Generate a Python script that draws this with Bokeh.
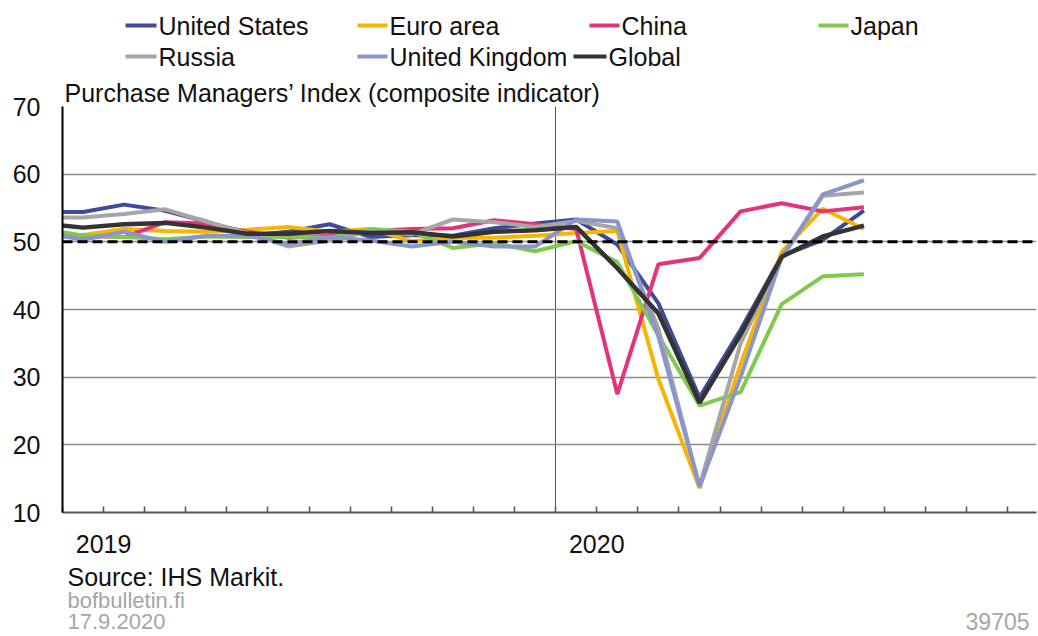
from bokeh.plotting import figure
from bokeh.models import Range1d, FixedTicker, Span, Grid, ColumnDataSource
from bokeh.layouts import column
from bokeh.embed import file_html
from bokeh.resources import INLINE
from bokeh.core.properties import value

FONT = "Liberation Sans"

# ---- data (monthly composite PMI) ----
months = ["2018-12", "2019-01", "2019-02", "2019-03", "2019-04", "2019-05", "2019-06",
          "2019-07", "2019-08", "2019-09", "2019-10", "2019-11", "2019-12",
          "2020-01", "2020-02", "2020-03", "2020-04", "2020-05", "2020-06",
          "2020-07", "2020-08"]

united_states = [54.4, 54.4, 55.5, 54.6, 53.0, 50.9, 51.5, 52.6, 50.7, 51.0, 50.9, 52.0, 52.7,
                 53.3, 49.6, 40.9, 27.0, 37.0, 47.9, 50.3, 54.6]
euro_area = [51.1, 51.0, 51.9, 51.6, 51.5, 51.8, 52.2, 51.5, 51.9, 50.1, 50.6, 50.6, 50.9,
             51.3, 51.6, 29.7, 13.6, 31.9, 48.5, 54.9, 51.9]
china = [50.7, 50.9, 50.7, 52.9, 52.7, 51.5, 50.6, 50.9, 51.6, 51.9, 52.0, 53.2, 52.6,
         51.9, 27.5, 46.7, 47.6, 54.5, 55.7, 54.5, 55.1]
japan = [52.0, 50.9, 50.7, 50.4, 50.8, 50.7, 50.8, 50.6, 51.9, 51.5, 49.1, 49.8, 48.6,
         50.1, 47.0, 36.2, 25.8, 27.8, 40.8, 44.9, 45.2]
russia = [53.6, 53.6, 54.1, 54.8, 53.0, 51.3, 49.3, 50.2, 51.6, 51.1, 53.3, 52.9, 52.2,
          53.1, 52.0, 37.2, 13.9, 35.0, 47.6, 56.8, 57.3]
united_kingdom = [51.4, 50.3, 51.5, 50.0, 50.9, 50.9, 49.7, 50.7, 50.2, 49.3, 50.0, 49.3, 49.3,
                  53.3, 53.0, 36.0, 13.8, 30.0, 47.7, 57.0, 59.1]
global_pmi = [52.7, 52.1, 52.6, 52.8, 52.1, 51.2, 51.2, 51.6, 51.3, 51.4, 50.8, 51.5, 51.7,
              52.2, 46.1, 39.4, 26.2, 36.3, 47.8, 50.8, 52.4]

series_names = ["United States", "Euro area", "China", "Japan", "Russia", "United Kingdom", "Global"]
series_values = [united_states, euro_area, china, japan, russia, united_kingdom, global_pmi]
series_colors = ["#3f4a9a", "#f7b500", "#e2337c", "#80c94f", "#a6a6a6", "#8c95cb", "#333333"]
series_widths = [4, 4, 4, 4, 4, 4, 4.5]

year_labels = {1: "2019", 13: "2020"}
y_ticks = [10, 20, 30, 40, 50, 60, 70]
threshold = 50

title_text = "Purchase Managers\u2019 Index (composite indicator)"
source_text = "Source: IHS Markit."
site_text = "bofbulletin.fi"
date_text = "17.9.2020"
code_text = "39705"

# month position: 0 = start of Jan 2019, points placed mid-month
def month_pos(m):
    y, mo = m.split("-")
    return (int(y) - 2019) * 12 + (int(mo) - 1) + 0.5

xs = [month_pos(m) for m in months]

W = 1038
FL, FR = 62, 1036          # frame left / right in page pixels
BL, BR = FL, W - FR

# ---- legend figure (page pixel coordinates) ----
LEG_H = 74
leg = figure(width=W, height=LEG_H, x_range=Range1d(FL, FR), y_range=Range1d(LEG_H, 0),
             toolbar_location=None, output_backend="svg",
             min_border_left=BL, min_border_right=BR, min_border_top=0, min_border_bottom=0,
             x_axis_location=None, y_axis_location=None)
leg.grid.visible = False
leg.outline_line_color = None

leg_x0 = [125, 357, 589, 818, 125, 357, 573]
leg_x1 = [156, 387, 619, 848, 156, 387, 606]
leg_tx = [158, 389, 621, 850, 158, 389, 608]
leg_y = [25, 25, 25, 25, 56, 56, 56]
lsrc = ColumnDataSource(dict(x0=leg_x0, x1=leg_x1, tx=leg_tx, y=leg_y,
                             name=series_names, color=series_colors))
leg.segment(x0="x0", y0="y", x1="x1", y1="y", line_color="color", line_width=4, source=lsrc)
leg.text(x="tx", y="y", text="name", text_baseline="middle", text_align="left",
         text_font=value(FONT), text_font_size="25px", text_color="#111111", source=lsrc)

# ---- main figure ----
MAIN_H = 490
p = figure(width=W, height=MAIN_H, x_range=Range1d(0, 23.7), y_range=Range1d(10, 70),
           toolbar_location=None, output_backend="svg",
           min_border_left=BL, min_border_right=BR, min_border_top=32, min_border_bottom=52)
p.outline_line_color = None
p.background_fill_color = "white"
p.border_fill_color = "white"

p.title.text = title_text
p.title.align = "left"
p.title.text_font = FONT
p.title.text_font_size = "25px"
p.title.text_font_style = "normal"
p.title.text_color = "#111111"
p.title.offset = 2
p.title.standoff = 0

# y axis
p.yaxis.ticker = FixedTicker(ticks=y_ticks)
p.yaxis.major_tick_in = 0
p.yaxis.major_tick_out = 0
p.yaxis.minor_tick_line_color = None
p.yaxis.axis_line_color = "black"
p.yaxis.axis_line_width = 2
p.yaxis.major_label_text_font = FONT
p.yaxis.major_label_text_font_size = "25px"
p.yaxis.major_label_text_color = "#111111"
p.yaxis.major_label_standoff = 22

# x axis
x_ticks = list(range(0, 24))
p.xaxis.ticker = FixedTicker(ticks=x_ticks)
p.xaxis.major_label_overrides = {t: year_labels.get(t, "") for t in x_ticks}
p.xaxis.major_tick_in = 6
p.xaxis.major_tick_out = 0
p.xaxis.major_tick_line_color = "#555555"
p.xaxis.major_tick_line_width = 1.5
p.xaxis.minor_tick_line_color = None
p.xaxis.axis_line_color = "#555555"
p.xaxis.axis_line_width = 2
p.xaxis.major_label_text_font = FONT
p.xaxis.major_label_text_font_size = "25px"
p.xaxis.major_label_text_color = "#111111"
p.xaxis.major_label_standoff = 22

# grids
p.ygrid.ticker = FixedTicker(ticks=[t for t in y_ticks if 10 < t < 70])
p.ygrid.grid_line_color = "#8c8c8c"
p.ygrid.grid_line_width = 1.3
p.xgrid.ticker = FixedTicker(ticks=[12])
p.xgrid.grid_line_color = "#555555"
p.xgrid.grid_line_width = 1
top_grid = Grid(dimension=1, ticker=FixedTicker(ticks=[70]), grid_line_color="black",
                grid_line_width=2)
p.add_layout(top_grid)

for name, vals, col, lw in zip(series_names, series_values, series_colors, series_widths):
    p.line(xs, vals, line_color=col, line_width=lw)

p.add_layout(Span(location=threshold, dimension="width", line_color="black",
                  line_width=3, line_dash="10 5"))

# ---- footer figure (page pixel coordinates) ----
FOOT_TOP = LEG_H + MAIN_H
FOOT_H = 636 - FOOT_TOP
foot = figure(width=W, height=FOOT_H, x_range=Range1d(FL, FR),
              y_range=Range1d(FOOT_TOP + FOOT_H, FOOT_TOP),
              toolbar_location=None, output_backend="svg",
              min_border_left=BL, min_border_right=BR, min_border_top=0, min_border_bottom=0,
              x_axis_location=None, y_axis_location=None)
foot.grid.visible = False
foot.outline_line_color = None
fsrc = ColumnDataSource(dict(x=[67, 67, 67], y=[576, 600, 621],
                             t=[source_text, site_text, date_text],
                             c=["#111111", "#a6a6a6", "#a6a6a6"],
                             s=["25px", "22px", "22px"]))
foot.text(x="x", y="y", text="t", text_color="c", text_font_size="s",
          text_baseline="middle", text_align="left", text_font=value(FONT), source=fsrc)
foot.text(x=[1029], y=[621], text=[code_text], text_color="#a6a6a6", text_font_size="23px",
          text_baseline="middle", text_align="right", text_font=value(FONT))

layout = column(leg, p, foot, spacing=0)
open("out.html", "w").write(file_html(layout, INLINE))
